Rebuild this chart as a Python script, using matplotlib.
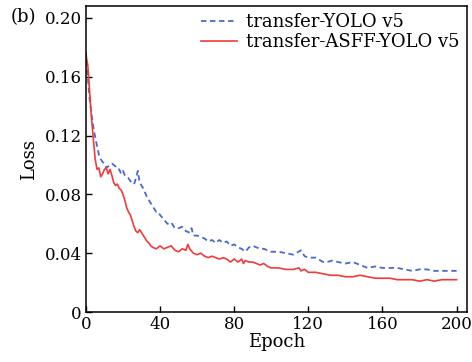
import matplotlib.pyplot as plt

# epochs / loss values
red_epoch = [0, 1, 2, 3, 4, 5, 6, 7, 8, 9, 10, 11, 12, 13, 14, 15, 16, 17, 18, 19,
             20, 21, 22, 23, 24, 25, 26, 27, 28, 29, 30, 31, 32, 33, 34, 35, 36, 38,
             40, 42, 44, 46, 48, 50, 52, 54, 55, 56, 58, 60, 62, 64, 66, 68, 70, 72,
             74, 76, 78, 80, 82, 84, 85, 86, 88, 90, 92, 94, 96, 98, 100, 104, 108,
             112, 115, 116, 118, 120, 124, 128, 132, 136, 140, 144, 148, 152, 156,
             160, 164, 168, 172, 176, 180, 184, 188, 192, 196, 200]
red_loss = [0.175, 0.168, 0.150, 0.132, 0.118, 0.104, 0.097, 0.098, 0.092, 0.094,
            0.097, 0.098, 0.094, 0.097, 0.093, 0.088, 0.086, 0.087, 0.084, 0.083,
            0.080, 0.076, 0.071, 0.068, 0.066, 0.062, 0.058, 0.055, 0.054, 0.056,
            0.054, 0.052, 0.050, 0.048, 0.047, 0.045, 0.044, 0.043,
            0.045, 0.043, 0.044, 0.045, 0.042, 0.041, 0.043, 0.042, 0.046, 0.043,
            0.040, 0.039, 0.040, 0.038, 0.037, 0.038, 0.037, 0.036,
            0.037, 0.036, 0.034, 0.036, 0.034, 0.036, 0.033, 0.035, 0.034, 0.034,
            0.033, 0.032, 0.033, 0.031, 0.030, 0.030, 0.029,
            0.029, 0.030, 0.028, 0.029, 0.027, 0.027, 0.026, 0.025, 0.025, 0.024,
            0.024, 0.025, 0.024, 0.023,
            0.023, 0.023, 0.022, 0.022, 0.022, 0.021, 0.022, 0.021, 0.022, 0.022, 0.022]

blue_epoch = [0, 1, 2, 3, 4, 5, 6, 7, 8, 9, 10, 11, 12, 13, 14, 15, 16, 17, 18, 19,
              20, 21, 22, 23, 24, 25, 26, 27, 28, 29, 30, 31, 32, 33, 34, 35, 36, 37,
              38, 39, 40, 42, 44, 46, 48, 50, 52, 54, 56, 57, 58, 60, 62, 64, 66, 68,
              70, 72, 74, 76, 78, 80, 82, 84, 86, 88, 90, 92, 94, 96, 98, 100, 104,
              108, 112, 116, 118, 120, 124, 128, 130, 133, 136, 140, 144, 148, 152,
              156, 160, 164, 168, 172, 176, 180, 184, 188, 192, 196, 200]
blue_loss = [0.177, 0.160, 0.145, 0.135, 0.126, 0.119, 0.113, 0.107, 0.104, 0.102,
             0.101, 0.098, 0.099, 0.100, 0.101, 0.100, 0.099, 0.097, 0.097, 0.094,
             0.096, 0.093, 0.092, 0.091, 0.089, 0.088, 0.087, 0.091, 0.096, 0.088,
             0.086, 0.084, 0.081, 0.078, 0.076, 0.074, 0.072, 0.070,
             0.068, 0.068, 0.066, 0.063, 0.060, 0.061, 0.057, 0.057, 0.058, 0.055,
             0.054, 0.057, 0.052, 0.052, 0.051, 0.050, 0.048, 0.049,
             0.047, 0.049, 0.047, 0.048, 0.045, 0.046, 0.044, 0.043, 0.041, 0.044,
             0.045, 0.044, 0.043, 0.043, 0.042, 0.041, 0.041,
             0.040, 0.039, 0.042, 0.038, 0.037, 0.037, 0.034, 0.034, 0.035, 0.034,
             0.033, 0.034, 0.032, 0.030,
             0.031, 0.030, 0.030, 0.030, 0.029, 0.028, 0.029, 0.029, 0.028, 0.028,
             0.028, 0.028]

x_ticks = [0, 40, 80, 120, 160, 200]
y_ticks = [0, 0.04, 0.08, 0.12, 0.16, 0.20]
y_tick_labels = ['0', '0.04', '0.08', '0.12', '0.16', '0.20']

plt.rcParams['font.family'] = 'DejaVu Serif'
plt.rcParams['font.size'] = 13

fig = plt.figure(figsize=(4.72, 3.62), dpi=100)
fig.subplots_adjust(left=0.182, right=0.989, top=0.983, bottom=0.138)
ax = fig.add_subplot(111)

ax.plot(blue_epoch, blue_loss, linestyle='--', color='#4a6acb', lw=1.3,
        dashes=(3, 2), label='transfer-YOLO v5')
ax.plot(red_epoch, red_loss, color='#f23a3a', lw=1.2, label='transfer-ASFF-YOLO v5')

ax.set_xlim(0, 205.5)
ax.set_ylim(0, 0.208)
ax.set_xticks(x_ticks)
ax.set_yticks(y_ticks)
ax.set_yticklabels(y_tick_labels)
ax.tick_params(direction='in', length=4, width=1, pad=3, labelsize=12)
for s in ax.spines.values():
    s.set_linewidth(1.1)

ax.set_xlabel('Epoch', labelpad=0)
ax.set_ylabel('Loss', labelpad=5)
ax.legend(loc='upper right', frameon=False, handlelength=2.0, handletextpad=0.5,
          borderaxespad=0.1, labelspacing=0.1, borderpad=0.3)
fig.text(0.022, 0.952, '(b)', fontsize=13, va='center')

plt.savefig('out.png', dpi=100)
